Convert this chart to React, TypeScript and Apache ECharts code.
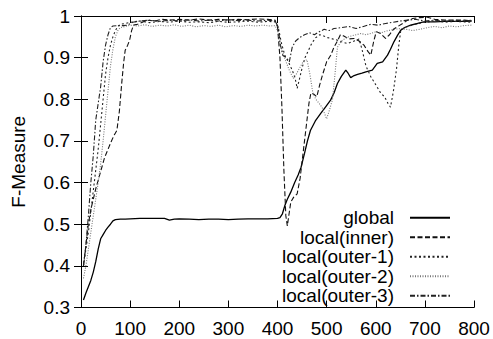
import React, { useEffect, useRef } from "react";
import * as echarts from "echarts";

// F-Measure over iterations for the global and local strategies
const seriesNames = [
  "global",
  "local(inner)",
  "local(outer-1)",
  "local(outer-2)",
  "local(outer-3)",
];

const xTicks = [0, 100, 200, 300, 400, 500, 600, 700, 800];
const yTicks = [0.3, 0.4, 0.5, 0.6, 0.7, 0.8, 0.9, 1];

const globalPts: [number, number][] = [
  [5, 0.318], [10, 0.335], [15, 0.35], [20, 0.365], [25, 0.385], [30, 0.41],
  [35, 0.44], [40, 0.465], [45, 0.475], [50, 0.485], [55, 0.493], [60, 0.5],
  [65, 0.508], [70, 0.511], [80, 0.512], [90, 0.512], [100, 0.513], [120, 0.514],
  [140, 0.514], [160, 0.514], [170, 0.514], [180, 0.51], [190, 0.512], [200, 0.513],
  [220, 0.512], [240, 0.511], [260, 0.512], [280, 0.512], [300, 0.511], [320, 0.512],
  [340, 0.513], [360, 0.513], [380, 0.513], [400, 0.514], [405, 0.516], [410, 0.525],
  [415, 0.545], [420, 0.56], [427, 0.577], [435, 0.6], [442, 0.618], [448, 0.637],
  [455, 0.67], [461, 0.7], [467, 0.725], [477, 0.748], [488, 0.766], [498, 0.782],
  [508, 0.798], [515, 0.815], [522, 0.838], [530, 0.855], [539, 0.87], [544, 0.862],
  [549, 0.852], [556, 0.857], [563, 0.86], [572, 0.863], [580, 0.866], [593, 0.87],
  [603, 0.886], [614, 0.89], [624, 0.906], [630, 0.92], [637, 0.938], [644, 0.953],
  [651, 0.966], [660, 0.973], [671, 0.978], [685, 0.982], [698, 0.986], [720, 0.986],
  [740, 0.987], [760, 0.987], [780, 0.987], [795, 0.988],
];

const innerPts: [number, number][] = [
  [5, 0.4], [10, 0.45], [15, 0.5], [20, 0.535], [25, 0.56], [30, 0.585],
  [36, 0.61], [42, 0.635], [48, 0.66], [55, 0.68], [62, 0.7], [68, 0.715],
  [73, 0.725], [78, 0.77], [83, 0.84], [87, 0.89], [90, 0.918], [95, 0.93],
  [99, 0.942], [103, 0.965], [107, 0.978], [115, 0.98], [125, 0.985], [135, 0.99],
  [150, 0.988], [165, 0.992], [180, 0.99], [200, 0.992], [220, 0.99], [240, 0.993],
  [260, 0.99], [280, 0.992], [300, 0.99], [320, 0.992], [340, 0.991], [360, 0.993],
  [380, 0.992], [395, 0.99], [400, 0.975], [405, 0.9], [409, 0.78], [413, 0.63],
  [417, 0.52], [420, 0.496], [427, 0.553], [433, 0.565], [440, 0.573], [446, 0.61],
  [452, 0.67], [458, 0.73], [464, 0.79], [468, 0.815], [474, 0.812], [480, 0.806],
  [486, 0.835], [492, 0.86], [500, 0.89], [508, 0.905], [515, 0.925], [522, 0.94],
  [528, 0.955], [535, 0.952], [545, 0.945], [556, 0.946], [566, 0.94], [576, 0.93],
  [584, 0.915], [590, 0.906], [596, 0.94], [601, 0.962], [610, 0.958], [620, 0.946],
  [628, 0.955], [636, 0.968], [645, 0.975], [655, 0.982], [665, 0.99], [675, 0.994],
  [690, 0.996], [705, 0.997], [720, 0.992], [740, 0.99], [760, 0.99], [780, 0.99],
  [795, 0.988],
];

const outer1Pts: [number, number][] = [
  [5, 0.4], [10, 0.44], [15, 0.48], [20, 0.53], [25, 0.58], [30, 0.63],
  [35, 0.68], [40, 0.74], [45, 0.8], [50, 0.86], [55, 0.9], [60, 0.93],
  [65, 0.95], [70, 0.965], [75, 0.975], [80, 0.98], [90, 0.982], [100, 0.985],
  [120, 0.988], [140, 0.984], [160, 0.987], [180, 0.985], [200, 0.988], [220, 0.985],
  [240, 0.986], [260, 0.984], [280, 0.987], [300, 0.985], [320, 0.986], [340, 0.988],
  [360, 0.985], [380, 0.987], [395, 0.986], [402, 0.97], [408, 0.935], [415, 0.905],
  [422, 0.89], [430, 0.87], [436, 0.85], [440, 0.826], [445, 0.85], [450, 0.875],
  [456, 0.9], [462, 0.915], [470, 0.935], [478, 0.948], [486, 0.955], [494, 0.952],
  [502, 0.948], [512, 0.945], [522, 0.942], [530, 0.938], [542, 0.934], [556, 0.94],
  [566, 0.945], [572, 0.92], [580, 0.88], [590, 0.854], [600, 0.835], [610, 0.815],
  [618, 0.806], [625, 0.79], [630, 0.781], [636, 0.82], [642, 0.87], [647, 0.93],
  [651, 0.966], [658, 0.972], [668, 0.976], [680, 0.98], [700, 0.985], [720, 0.988],
  [740, 0.985], [760, 0.987], [780, 0.986], [795, 0.985],
];

const outer2Pts: [number, number][] = [
  [5, 0.37], [10, 0.4], [15, 0.44], [20, 0.48], [25, 0.52], [30, 0.56],
  [35, 0.6], [40, 0.645], [45, 0.7], [50, 0.76], [55, 0.82], [60, 0.88],
  [65, 0.92], [70, 0.95], [75, 0.965], [80, 0.972], [90, 0.975], [100, 0.978],
  [115, 0.976], [130, 0.979], [145, 0.975], [160, 0.978], [175, 0.976], [190, 0.979],
  [205, 0.975], [220, 0.978], [235, 0.974], [250, 0.977], [265, 0.975], [280, 0.978],
  [295, 0.974], [310, 0.977], [325, 0.975], [340, 0.978], [355, 0.976], [370, 0.978],
  [385, 0.976], [395, 0.977], [400, 0.965], [405, 0.93], [410, 0.915], [416, 0.894],
  [424, 0.87], [432, 0.85], [438, 0.86], [445, 0.875], [452, 0.89], [460, 0.895],
  [466, 0.86], [472, 0.815], [478, 0.8], [485, 0.79], [491, 0.78], [496, 0.765],
  [500, 0.753], [506, 0.775], [512, 0.8], [517, 0.86], [522, 0.925], [530, 0.94],
  [540, 0.948], [550, 0.952], [560, 0.955], [570, 0.958], [580, 0.955], [590, 0.958],
  [600, 0.962], [612, 0.96], [625, 0.965], [638, 0.968], [651, 0.97], [662, 0.968],
  [675, 0.965], [690, 0.968], [705, 0.972], [720, 0.975], [735, 0.972], [750, 0.976],
  [765, 0.974], [780, 0.977], [795, 0.978],
];

const outer3Pts: [number, number][] = [
  [5, 0.4], [10, 0.45], [15, 0.52], [20, 0.6], [25, 0.665], [30, 0.75],
  [35, 0.79], [40, 0.83], [45, 0.89], [50, 0.93], [55, 0.955], [60, 0.972],
  [65, 0.976], [75, 0.977], [85, 0.977], [95, 0.978], [105, 0.985], [120, 0.988],
  [140, 0.99], [160, 0.987], [180, 0.99], [200, 0.988], [220, 0.991], [240, 0.988],
  [260, 0.99], [280, 0.988], [300, 0.991], [320, 0.989], [340, 0.99], [360, 0.988],
  [380, 0.99], [395, 0.988], [401, 0.975], [406, 0.93], [411, 0.905], [418, 0.9],
  [424, 0.89], [430, 0.925], [437, 0.94], [445, 0.948], [455, 0.955], [465, 0.96],
  [475, 0.955], [485, 0.962], [495, 0.968], [505, 0.965], [515, 0.97], [530, 0.972],
  [545, 0.975], [560, 0.97], [575, 0.975], [590, 0.98], [605, 0.978], [620, 0.982],
  [635, 0.985], [650, 0.988], [665, 0.99], [680, 0.992], [700, 0.988], [720, 0.99],
  [740, 0.987], [760, 0.99], [780, 0.988], [795, 0.99],
];

const seriesData = [globalPts, innerPts, outer1Pts, outer2Pts, outer3Pts];

const lineStyles: { color: string; width: number; type: any }[] = [
  { color: "#000000", width: 1.3, type: "solid" },
  { color: "#111111", width: 1.1, type: [5, 2.5] },
  { color: "#222222", width: 1.1, type: [2, 2.5] },
  { color: "#777777", width: 1.1, type: [1, 1.5] },
  { color: "#222222", width: 1.1, type: [5, 2, 1.5, 2] },
];

const FONT = "'Liberation Sans', Arial, Helvetica, sans-serif";

export default function App() {
  const ref = useRef<HTMLDivElement>(null);

  useEffect(() => {
    if (!ref.current) return;
    const chart = echarts.init(ref.current, undefined, { renderer: "svg" });

    const xMin = xTicks[0];
    const xMax = xTicks[xTicks.length - 1];
    const xStep = xTicks[1] - xTicks[0];
    const yMin = yTicks[0];
    const yMax = yTicks[yTicks.length - 1];

    const axisLine = { show: true, lineStyle: { color: "#000", width: 1 } };
    const tick = { show: true, inside: true, length: 7, lineStyle: { color: "#000", width: 1 } };
    const labelStyle = { fontFamily: FONT, fontSize: 19, color: "#000" };

    chart.setOption({
      animation: false,
      backgroundColor: "#ffffff",
      grid: { left: 81, right: 19, top: 16, bottom: 31.5, containLabel: false },
      xAxis: [
        {
          type: "value",
          min: xMin,
          max: xMax,
          interval: xStep,
          axisLine,
          axisTick: tick,
          splitLine: { show: false },
          axisLabel: { ...labelStyle, margin: 11 },
        },
        {
          type: "value",
          position: "top",
          min: xMin,
          max: xMax,
          interval: xStep,
          axisLine,
          axisTick: tick,
          splitLine: { show: false },
          axisLabel: { show: false },
        },
      ],
      yAxis: [
        {
          type: "value",
          min: yMin,
          max: yMax,
          interval: 0.1,
          name: "F-Measure",
          nameLocation: "middle",
          nameGap: 53,
          nameTextStyle: { fontFamily: FONT, fontSize: 19, color: "#000" },
          axisLine,
          axisTick: tick,
          splitLine: { show: false },
          axisLabel: {
            ...labelStyle,
            margin: 11,
            formatter: (v: number) => String(Number(v.toFixed(1))),
          },
        },
        {
          type: "value",
          position: "right",
          min: yMin,
          max: yMax,
          interval: 0.1,
          axisLine,
          axisTick: tick,
          splitLine: { show: false },
          axisLabel: { show: false },
        },
      ],
      legend: {
        orient: "vertical",
        right: 37,
        top: 203,
        align: "right",
        itemWidth: 40,
        itemHeight: 10,
        itemGap: 0,
        selectedMode: false,
        data: seriesNames,
        itemStyle: { color: "transparent", borderColor: "transparent", borderWidth: 0 },
        textStyle: {
          fontFamily: FONT,
          fontSize: 19,
          color: "#000",
          lineHeight: 19.5,
          padding: [0, 11, 0, 0],
        },
      },
      series: seriesNames.map((name, i) => ({
        name,
        type: "line",
        xAxisIndex: 0,
        yAxisIndex: 0,
        data: seriesData[i],
        symbol: "none",
        showSymbol: false,
        silent: true,
        lineStyle: lineStyles[i],
        itemStyle: { color: lineStyles[i].color },
      })),
    });

    return () => chart.dispose();
  }, []);

  return (
    <div
      ref={ref}
      style={{ position: "fixed", left: 0, top: 0, width: 493, height: 339, background: "#fff" }}
    />
  );
}
